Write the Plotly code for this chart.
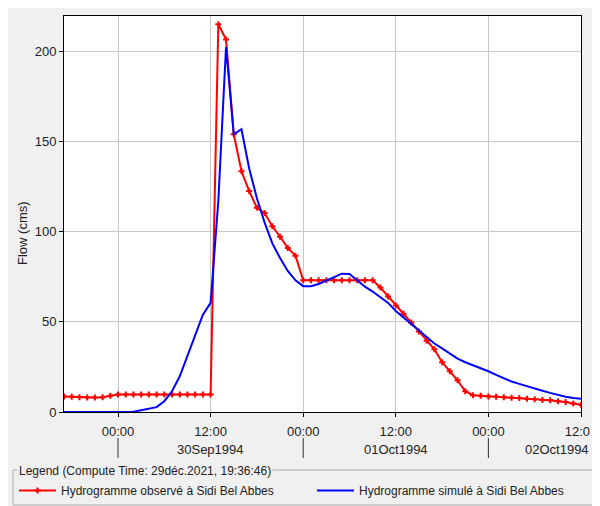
import pandas as pd
import plotly.graph_objects as go

# ---------------- data ----------------
start_time = "1994-09-29 17:00"
end_time = "1994-10-02 12:00"
times = pd.date_range(start_time, end_time, freq="h")

observed = [8.6, 8.4, 8.2, 8.0, 8.0, 8.2, 9.0,
            9.7, 9.7, 9.7, 9.7, 9.7, 9.7, 9.7, 9.7, 9.7, 9.7, 9.7, 9.7, 9.7,
            215, 206.6, 154, 133.5, 122.5, 113.2, 110.3, 103, 97.2, 91, 86.7,
            73, 73, 73, 73, 73, 73, 73, 73, 73, 73,
            69, 64, 59, 54.5, 49.7, 44.7, 39.5, 34.8, 27.6, 22.6, 17.6, 11.5,
            9.3, 9.0, 8.6, 8.4, 8.2, 7.9, 7.7, 7.3, 7.1, 6.7, 6.5, 6.0, 5.6, 4.7, 4.0]

simulated = [0, 0, 0, 0, 0, 0, 0, 0, 0,
             0.2, 1.0, 1.8, 2.7, 6.0, 11.5, 19.8, 31.3, 42.9, 54, 60.5,
             117, 202.5, 154, 156.8, 135, 118.5, 105, 93.5, 85.4, 78.2, 73,
             69.8, 69.8, 71, 72.8, 75, 76.7, 76.5, 73, 69.5, 66.8, 63.8, 60.5,
             56, 52.4, 48.8, 45, 41.5, 38, 35.3, 32.3, 29.6, 27.6, 26, 24.4,
             22.6, 20.6, 18.7, 16.9, 15.6, 14.2, 13, 11.8, 10.6, 9.5, 8.5, 7.8, 7.3]

y_ticks = [0, 50, 100, 150, 200]
day_starts = ["1994-09-30", "1994-10-01", "1994-10-02"]
day_labels = ["30Sep1994", "01Oct1994", "02Oct1994"]
day_label_pos = ["1994-09-30 12:00", "1994-10-01 12:00", None]

name_obs = "Hydrogramme observé à Sidi Bel Abbes"
name_sim = "Hydrogramme simulé à Sidi Bel Abbes"
legend_title = "Legend (Compute Time: 29déc.2021, 19:36:46)"
y_title = "Flow (cms)"

# ---------------- layout helpers ----------------
# the page body adds an 8px offset, so the figure is 8px smaller than the window
OFF = 8
W, H = 600 - OFF, 506 - OFF
L, T = 64 - OFF, 16 - OFF
PW, PH = 517, 396
R, B = W - L - PW, H - T - PH


def px(x):
    """reference-window pixel x -> paper coordinate"""
    return (x - OFF - L) / PW


def py(y):
    """reference-window pixel y -> paper coordinate"""
    return (T + PH - (y - OFF)) / PH


FONT = "Liberation Sans, Arial, sans-serif"
GRAY_BG = "#f0f0f0"
TXT = "#222222"
AX_FS = 13
LEG_FS = 12

fig = go.Figure()
fig.add_trace(go.Scatter(
    x=times, y=observed, name=name_obs, mode="lines+markers",
    line=dict(color="#ff0000", width=2),
    marker=dict(symbol="cross", size=5, color="#ff0000", line=dict(width=0)),
    legend="legend",
))
fig.add_trace(go.Scatter(
    x=times, y=simulated, name=name_sim, mode="lines",
    line=dict(color="#0000ff", width=2),
    legend="legend2",
))

shapes = []
# day separator ticks below the axis
for d in day_starts:
    shapes.append(dict(type="line", xref="x", yref="paper", x0=d, x1=d, y0=py(438), y1=py(458),
                       line=dict(color="#333333", width=1)))
# clip the last tick label like the reference
shapes.append(dict(type="rect", xref="paper", yref="paper", x0=px(590), x1=px(604), y0=py(420), y1=py(440),
                   fillcolor=GRAY_BG, line=dict(width=0), layer="above"))
# legend frame
shapes.append(dict(type="rect", xref="paper", yref="paper", x0=px(13), x1=px(598), y0=py(470), y1=py(505),
                   fillcolor="rgba(0,0,0,0)", line=dict(color="#a8a8a8", width=1)))

annotations = []
for lab, pos in zip(day_labels, day_label_pos):
    if pos is not None:
        annotations.append(dict(x=pos, xref="x", y=py(449), yref="paper", text=lab, showarrow=False,
                                xanchor="center", yanchor="middle", font=dict(size=AX_FS, color=TXT, family=FONT)))
    else:
        annotations.append(dict(x=px(591), xref="paper", y=py(449), yref="paper", text=lab, showarrow=False,
                                xanchor="right", yanchor="middle", font=dict(size=AX_FS, color=TXT, family=FONT)))
annotations.append(dict(x=px(22), xref="paper", y=py(233), yref="paper", text=y_title, showarrow=False,
                        textangle=-90, xanchor="center", yanchor="middle",
                        font=dict(size=AX_FS, color=TXT, family=FONT)))
annotations.append(dict(x=px(17), xref="paper", y=py(471), yref="paper", text=legend_title, showarrow=False,
                        xanchor="left", yanchor="middle", bgcolor=GRAY_BG, borderpad=1,
                        font=dict(size=LEG_FS, color=TXT, family=FONT)))

legend_common = dict(orientation="h", xanchor="left", yanchor="top", bgcolor="rgba(0,0,0,0)",
                     itemwidth=37, font=dict(size=LEG_FS, family=FONT, color=TXT), itemclick=False)

fig.update_layout(
    width=W, height=H,
    margin=dict(l=L, r=R, t=T, b=B, autoexpand=False),
    paper_bgcolor=GRAY_BG, plot_bgcolor="white",
    font=dict(family=FONT, size=AX_FS, color=TXT),
    showlegend=True,
    legend=dict(x=px(14), y=py(476), **legend_common),
    legend2=dict(x=px(312), y=py(476), **legend_common),
    shapes=shapes, annotations=annotations,
)
fig.update_xaxes(
    type="date", range=[start_time, end_time],
    tickformat="%H:%M", dtick=12 * 3600 * 1000, tick0="1994-09-30 00:00",
    showgrid=True, gridcolor="#c8c8c8", gridwidth=1,
    showline=True, linecolor="black", linewidth=1, mirror=True,
    ticks="outside", ticklen=4, tickcolor="black", ticklabelstandoff=3,
    tickfont=dict(size=AX_FS, family=FONT, color=TXT), zeroline=False,
)
fig.update_yaxes(
    range=[0, 219.6], tickvals=y_ticks,
    showgrid=True, gridcolor="#c8c8c8", gridwidth=1,
    showline=True, linecolor="black", linewidth=1, mirror=True,
    ticks="outside", ticklen=4, tickcolor="black",
    tickfont=dict(size=AX_FS, family=FONT, color=TXT), zeroline=False,
)

fig.write_html("out.html")
